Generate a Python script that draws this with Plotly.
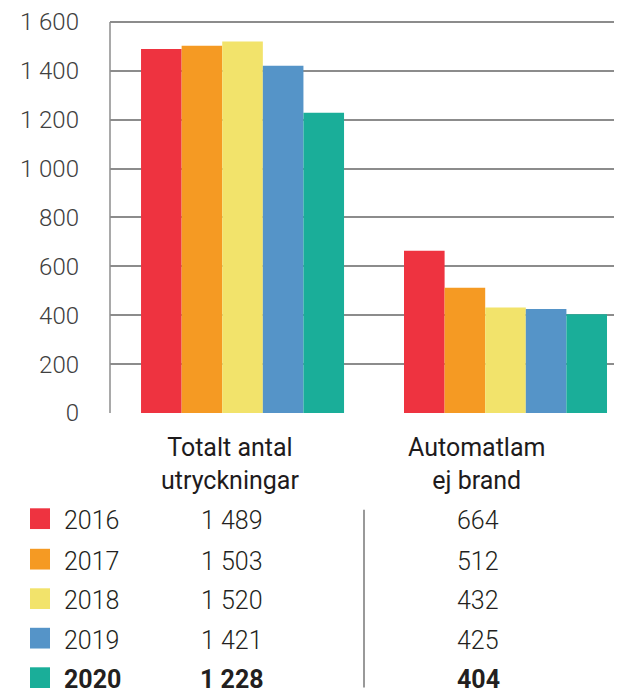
import plotly.graph_objects as go

kategorier = ["Totalt antal<br>utryckningar", "Automatlam<br>ej brand"]
ar = ["2016", "2017", "2018", "2019", "2020"]
totalt = [1489, 1503, 1520, 1421, 1228]
automatlam = [664, 512, 432, 425, 404]
farger = ["#ee3340", "#f59a23", "#f2e36b", "#5594c8", "#1aae99"]
y_ticks = [0, 200, 400, 600, 800, 1000, 1200, 1400, 1600]

# sidan har 8 px marginal runt diagrammet
OFF = 8
Y_MAX = 1612
W, H = 622 - OFF, 691 - OFF
L, R = 110 - OFF, 0
B = H - (413 - OFF)
# 1600 ska hamna på skärmpixel 17
T = (17 - OFF) - (Y_MAX - 1600) * (413 - 17) / 1600


def px(x):
    # skärmpixel -> paper x
    return (x - OFF - L) / (W - L - R)


def py(y):
    # skärmpixel -> paper y
    return (H - B - (y - OFF)) / (H - T - B)


def fmt(v):
    return f"{v:,}".replace(",", " ")


fig = go.Figure()

for i, a in enumerate(ar):
    fig.add_trace(go.Bar(
        x=kategorier,
        y=[totalt[i], automatlam[i]],
        name=a,
        marker=dict(color=farger[i], line=dict(width=0)),
        showlegend=False,
    ))

fig.update_layout(
    width=W, height=H,
    margin=dict(l=L, r=R, t=T, b=B),
    paper_bgcolor="white",
    plot_bgcolor="white",
    barmode="group",
    bargap=0.228,
    bargroupgap=0,
    separators=", ",
    font=dict(family="Roboto, Open Sans, sans-serif", color="#231f20"),
)

fig.update_xaxes(
    range=[-0.504, 1.443],
    showticklabels=False,
    showgrid=False,
    zeroline=False,
    showline=False,
)
fig.update_yaxes(
    range=[0, Y_MAX],
    tickvals=y_ticks,
    tickformat=",d",
    tickfont=dict(size=24, color="#404040", weight=300),
    showgrid=True,
    gridcolor="#8c8c8c",
    gridwidth=1.5,
    zeroline=False,
    showline=False,
    ticks="",
    ticklabelstandoff=30,
    ticklabeloverflow="allow",
)

shapes = [
    # vänster axellinje, från 0 till 1600
    dict(type="line", xref="paper", yref="y", x0=0, x1=0, y0=0, y1=1600,
         line=dict(color="#8c8c8c", width=1.5)),
]
annotations = []

# kategorietiketter
for k, xc in zip(kategorier, [230, 476]):
    annotations.append(dict(
        x=px(xc), xref="paper", y=py(465), yref="paper",
        text=k, showarrow=False, xanchor="center", yanchor="middle",
        font=dict(size=25, color="#1e1b1c"),
    ))

# tabell
rad_y = [522, 563, 603, 643, 683]
for i, a in enumerate(ar):
    yy = rad_y[i]
    fet = i == len(ar) - 1

    def t(s):
        return f"<b>{s}</b>" if fet else s

    shapes.append(dict(
        type="rect", xref="paper", yref="paper",
        x0=px(30), x1=px(50), y0=py(yy - 12.5), y1=py(yy + 8.5),
        fillcolor=farger[i], line=dict(width=0),
    ))
    for txt, xc, anc in [(a, 62, "left"),
                         (fmt(totalt[i]), 232, "center"),
                         (fmt(automatlam[i]), 478, "center")]:
        annotations.append(dict(
            x=px(xc), xref="paper", y=py(yy), yref="paper",
            text=t(txt), showarrow=False, xanchor=anc, yanchor="middle",
            font=dict(size=25, weight=700 if fet else 300),
        ))

for xl in [364, 620]:
    shapes.append(dict(
        type="line", xref="paper", yref="paper",
        x0=px(xl), x1=px(xl), y0=py(511), y1=py(691),
        line=dict(color="#555555", width=1.2),
    ))

fig.update_layout(shapes=shapes, annotations=annotations)

fig.write_html("out.html")
